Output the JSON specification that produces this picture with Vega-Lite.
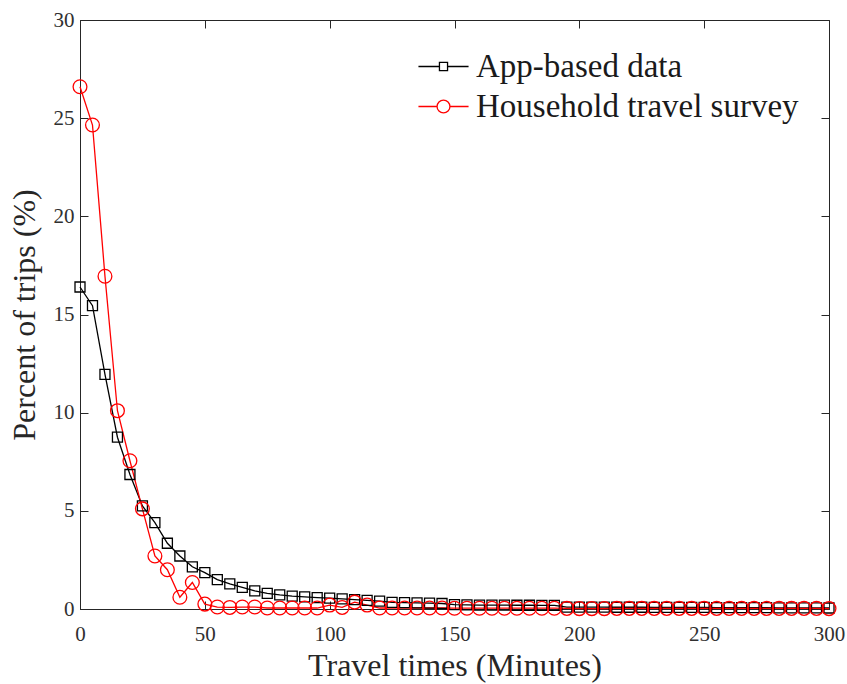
{
  "$schema": "https://vega.github.io/schema/vega-lite/v6.json",
  "width": 749,
  "height": 589,
  "autosize": {"type": "none"},
  "padding": {"left": 80, "top": 20, "right": 18, "bottom": 75},
  "background": "white",
  "config": {
    "view": {"stroke": "#262626", "strokeWidth": 1},
    "font": "Liberation Serif",
    "axis": {
      "labelFont": "Liberation Serif",
      "titleFont": "Liberation Serif",
      "labelFontSize": 21,
      "titleFontSize": 32,
      "labelColor": "#303030",
      "titleColor": "#262626",
      "domainColor": "#262626",
      "tickColor": "#262626",
      "grid": false,
      "titleFontWeight": "normal"
    }
  },
  "data": {"values": [
    {"t": 0, "s": "App-based data", "p": 16.4},
    {"t": 5, "s": "App-based data", "p": 15.45},
    {"t": 10, "s": "App-based data", "p": 11.95},
    {"t": 15, "s": "App-based data", "p": 8.75},
    {"t": 20, "s": "App-based data", "p": 6.85},
    {"t": 25, "s": "App-based data", "p": 5.25},
    {"t": 30, "s": "App-based data", "p": 4.4},
    {"t": 35, "s": "App-based data", "p": 3.35},
    {"t": 40, "s": "App-based data", "p": 2.7},
    {"t": 45, "s": "App-based data", "p": 2.15},
    {"t": 50, "s": "App-based data", "p": 1.85},
    {"t": 55, "s": "App-based data", "p": 1.5},
    {"t": 60, "s": "App-based data", "p": 1.28},
    {"t": 65, "s": "App-based data", "p": 1.1},
    {"t": 70, "s": "App-based data", "p": 0.92},
    {"t": 75, "s": "App-based data", "p": 0.8},
    {"t": 80, "s": "App-based data", "p": 0.72},
    {"t": 85, "s": "App-based data", "p": 0.66},
    {"t": 90, "s": "App-based data", "p": 0.62},
    {"t": 95, "s": "App-based data", "p": 0.58},
    {"t": 100, "s": "App-based data", "p": 0.55},
    {"t": 105, "s": "App-based data", "p": 0.52},
    {"t": 110, "s": "App-based data", "p": 0.48},
    {"t": 115, "s": "App-based data", "p": 0.44},
    {"t": 120, "s": "App-based data", "p": 0.4},
    {"t": 125, "s": "App-based data", "p": 0.34},
    {"t": 130, "s": "App-based data", "p": 0.32},
    {"t": 135, "s": "App-based data", "p": 0.31},
    {"t": 140, "s": "App-based data", "p": 0.3},
    {"t": 145, "s": "App-based data", "p": 0.28},
    {"t": 150, "s": "App-based data", "p": 0.22},
    {"t": 155, "s": "App-based data", "p": 0.21},
    {"t": 160, "s": "App-based data", "p": 0.2},
    {"t": 165, "s": "App-based data", "p": 0.2},
    {"t": 170, "s": "App-based data", "p": 0.2},
    {"t": 175, "s": "App-based data", "p": 0.19},
    {"t": 180, "s": "App-based data", "p": 0.19},
    {"t": 185, "s": "App-based data", "p": 0.18},
    {"t": 190, "s": "App-based data", "p": 0.18},
    {"t": 195, "s": "App-based data", "p": 0.1},
    {"t": 200, "s": "App-based data", "p": 0.1},
    {"t": 205, "s": "App-based data", "p": 0.1},
    {"t": 210, "s": "App-based data", "p": 0.1},
    {"t": 215, "s": "App-based data", "p": 0.09},
    {"t": 220, "s": "App-based data", "p": 0.09},
    {"t": 225, "s": "App-based data", "p": 0.09},
    {"t": 230, "s": "App-based data", "p": 0.08},
    {"t": 235, "s": "App-based data", "p": 0.08},
    {"t": 240, "s": "App-based data", "p": 0.08},
    {"t": 245, "s": "App-based data", "p": 0.08},
    {"t": 250, "s": "App-based data", "p": 0.08},
    {"t": 255, "s": "App-based data", "p": 0.07},
    {"t": 260, "s": "App-based data", "p": 0.07},
    {"t": 265, "s": "App-based data", "p": 0.07},
    {"t": 270, "s": "App-based data", "p": 0.07},
    {"t": 275, "s": "App-based data", "p": 0.07},
    {"t": 280, "s": "App-based data", "p": 0.06},
    {"t": 285, "s": "App-based data", "p": 0.06},
    {"t": 290, "s": "App-based data", "p": 0.06},
    {"t": 295, "s": "App-based data", "p": 0.06},
    {"t": 300, "s": "App-based data", "p": 0.05},
    {"t": 0, "s": "Household travel survey", "p": 26.6},
    {"t": 5, "s": "Household travel survey", "p": 24.65},
    {"t": 10, "s": "Household travel survey", "p": 16.95},
    {"t": 15, "s": "Household travel survey", "p": 10.1},
    {"t": 20, "s": "Household travel survey", "p": 7.55},
    {"t": 25, "s": "Household travel survey", "p": 5.1},
    {"t": 30, "s": "Household travel survey", "p": 2.7},
    {"t": 35, "s": "Household travel survey", "p": 2.0},
    {"t": 40, "s": "Household travel survey", "p": 0.6},
    {"t": 45, "s": "Household travel survey", "p": 1.35},
    {"t": 50, "s": "Household travel survey", "p": 0.25},
    {"t": 55, "s": "Household travel survey", "p": 0.1},
    {"t": 60, "s": "Household travel survey", "p": 0.08},
    {"t": 65, "s": "Household travel survey", "p": 0.1},
    {"t": 70, "s": "Household travel survey", "p": 0.1},
    {"t": 75, "s": "Household travel survey", "p": 0.05},
    {"t": 80, "s": "Household travel survey", "p": 0.05},
    {"t": 85, "s": "Household travel survey", "p": 0.05},
    {"t": 90, "s": "Household travel survey", "p": 0.05},
    {"t": 95, "s": "Household travel survey", "p": 0.05},
    {"t": 100, "s": "Household travel survey", "p": 0.2},
    {"t": 105, "s": "Household travel survey", "p": 0.08},
    {"t": 110, "s": "Household travel survey", "p": 0.35},
    {"t": 115, "s": "Household travel survey", "p": 0.2},
    {"t": 120, "s": "Household travel survey", "p": 0.05},
    {"t": 125, "s": "Household travel survey", "p": 0.05},
    {"t": 130, "s": "Household travel survey", "p": 0.05},
    {"t": 135, "s": "Household travel survey", "p": 0.05},
    {"t": 140, "s": "Household travel survey", "p": 0.05},
    {"t": 145, "s": "Household travel survey", "p": 0.05},
    {"t": 150, "s": "Household travel survey", "p": 0.04},
    {"t": 155, "s": "Household travel survey", "p": 0.04},
    {"t": 160, "s": "Household travel survey", "p": 0.04},
    {"t": 165, "s": "Household travel survey", "p": 0.04},
    {"t": 170, "s": "Household travel survey", "p": 0.04},
    {"t": 175, "s": "Household travel survey", "p": 0.04},
    {"t": 180, "s": "Household travel survey", "p": 0.04},
    {"t": 185, "s": "Household travel survey", "p": 0.04},
    {"t": 190, "s": "Household travel survey", "p": 0.04},
    {"t": 195, "s": "Household travel survey", "p": 0.03},
    {"t": 200, "s": "Household travel survey", "p": 0.02},
    {"t": 205, "s": "Household travel survey", "p": 0.02},
    {"t": 210, "s": "Household travel survey", "p": 0.02},
    {"t": 215, "s": "Household travel survey", "p": 0.03},
    {"t": 220, "s": "Household travel survey", "p": 0.03},
    {"t": 225, "s": "Household travel survey", "p": 0.03},
    {"t": 230, "s": "Household travel survey", "p": 0.03},
    {"t": 235, "s": "Household travel survey", "p": 0.03},
    {"t": 240, "s": "Household travel survey", "p": 0.03},
    {"t": 245, "s": "Household travel survey", "p": 0.03},
    {"t": 250, "s": "Household travel survey", "p": 0.03},
    {"t": 255, "s": "Household travel survey", "p": 0.03},
    {"t": 260, "s": "Household travel survey", "p": 0.03},
    {"t": 265, "s": "Household travel survey", "p": 0.03},
    {"t": 270, "s": "Household travel survey", "p": 0.03},
    {"t": 275, "s": "Household travel survey", "p": 0.03},
    {"t": 280, "s": "Household travel survey", "p": 0.03},
    {"t": 285, "s": "Household travel survey", "p": 0.03},
    {"t": 290, "s": "Household travel survey", "p": 0.03},
    {"t": 295, "s": "Household travel survey", "p": 0.03},
    {"t": 300, "s": "Household travel survey", "p": 0.02}
  ]},
  "layer": [
    {
      "mark": {"type": "line", "strokeWidth": 1.3},
      "encoding": {
        "x": {"field": "t", "type": "quantitative",
              "scale": {"domain": [0, 300], "nice": false},
              "axis": {"title": "Travel times (Minutes)", "values": [0, 50, 100, 150, 200, 250, 300],
                       "tickSize": -8, "labelPadding": 22, "titlePadding": 6, "labelFlush": false}},
        "y": {"field": "p", "type": "quantitative",
              "scale": {"domain": [0, 30], "nice": false},
              "axis": {"title": "Percent of trips (%)", "values": [0, 5, 10, 15, 20, 25, 30],
                       "tickSize": -8, "labelPadding": 14, "titlePadding": 12}},
        "color": {"field": "s", "type": "nominal",
                  "scale": {"domain": ["App-based data", "Household travel survey"], "range": ["#000000", "#ff0000"]},
                  "legend": {
                    "title": null, "orient": "top-right", "offset": 30,
                    "labelFont": "Liberation Serif", "labelFontSize": 33, "labelColor": "#1a1a1a",
                    "labelLimit": 0,
                    "symbolSize": 900, "labelOffset": 16, "rowPadding": 6,
                    "symbolStrokeWidth": 1.3,
                    "encode": {"symbols": {"update": {
                      "shape": {"signal": "datum.value == 'App-based data' ? 'M-1.67,0H-0.27M0.27,0H1.67M-0.27,-0.27H0.27V0.27H-0.27Z' : 'M-1.67,0H-0.43M0.43,0H1.67M-0.43,0A0.43,0.43 0 1,0 0.43,0A0.43,0.43 0 1,0 -0.43,0'"},
                      "fill": {"value": "transparent"},
                      "strokeWidth": {"value": 1.3}
                    }}}
                  }}
      }
    },
    {
      "transform": [{"filter": "datum.s == 'App-based data'"}],
      "mark": {"type": "point", "shape": "square", "size": 100, "filled": false, "strokeWidth": 1.3, "opacity": 1},
      "encoding": {
        "x": {"field": "t", "type": "quantitative",
              "axis": {"orient": "top", "title": null, "labels": false, "values": [0, 50, 100, 150, 200, 250, 300], "tickSize": -8, "domain": false}},
        "y": {"field": "p", "type": "quantitative",
              "axis": {"orient": "right", "title": null, "labels": false, "values": [0, 5, 10, 15, 20, 25, 30], "tickSize": -8, "domain": false}},
        "color": {"field": "s", "type": "nominal", "legend": null}
      }
    },
    {
      "transform": [{"filter": "datum.s == 'Household travel survey'"}],
      "mark": {"type": "point", "shape": "circle", "size": 190, "filled": false, "strokeWidth": 1.3, "opacity": 1},
      "encoding": {
        "x": {"field": "t", "type": "quantitative", "axis": null},
        "y": {"field": "p", "type": "quantitative", "axis": null},
        "color": {"field": "s", "type": "nominal", "legend": null}
      }
    }
  ],
  "resolve": {"axis": {"x": "independent", "y": "independent"}}
}
